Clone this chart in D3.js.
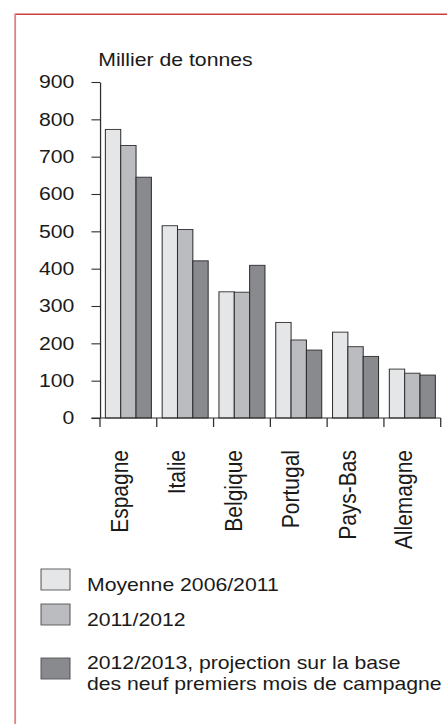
<!DOCTYPE html>
<html>
<head>
    <meta charset="utf-8">
    <title>Millier de tonnes</title>
    <script src="https://cdn.jsdelivr.net/npm/d3@7"></script>
    <style>
        body { margin: 0; background: #fff; }
        svg { display: block; }
        text { font-family: "Liberation Sans", Arial, sans-serif; fill: #1a1a1a; }
    </style>
</head>
<body>
    <script>
        // Données (milliers de tonnes)
        var pays = ["Espagne", "Italie", "Belgique", "Portugal", "Pays-Bas", "Allemagne"];
        var moyenne0611 = [773, 515, 338, 256, 230, 131];
        var campagne1112 = [730, 505, 337, 209, 191, 120];
        var campagne1213 = [645, 421, 409, 182, 165, 115];
        var series = ["Moyenne 2006/2011", "2011/2012", "2012/2013"];
        var legendLabels = [["Moyenne 2006/2011"], ["2011/2012"],
            ["2012/2013, projection sur la base", "des neuf premiers mois de campagne"]];
        var yTicks = [0, 100, 200, 300, 400, 500, 600, 700, 800, 900];

        var fills = ["#e5e6e8", "#bbbcbf", "#898a8e"];

        // Dimensions. L'image d'origine est étirée horizontalement
        var width = 447, height = 724;
        var sx = 1.14;
        var vbWidth = width / sx;

        var svg = d3.select("body").append("svg")
            .attr("width", width)
            .attr("height", height)
            .attr("viewBox", "0 0 " + vbWidth + " " + height)
            .attr("preserveAspectRatio", "none");

        // Cadre rouge
        svg.append("line")
            .attr("x1", 13.2).attr("x2", vbWidth)
            .attr("y1", 14.2).attr("y2", 14.2)
            .attr("stroke", "#c8403f").attr("stroke-width", 1.6);
        svg.append("line")
            .attr("x1", 13.3).attr("x2", 13.3)
            .attr("y1", 13.5).attr("y2", height)
            .attr("stroke", "#dc8585").attr("stroke-width", 1.6);

        var x0 = d3.scaleBand()
            .domain(pays)
            .range([87.7, 386.6])
            .paddingInner(0.19)
            .paddingOuter(0.095);

        var x1 = d3.scaleBand()
            .domain(series)
            .range([0, x0.bandwidth()]);

        var y = d3.scaleLinear()
            .domain([0, 900])
            .range([418, 82]);

        var rows = pays.map(function(p, i) {
            return {pays: p, values: [moyenne0611[i], campagne1112[i], campagne1213[i]]};
        });

        // Barres
        var groups = svg.selectAll("g.pays")
            .data(rows)
            .enter().append("g")
            .attr("class", "pays")
            .attr("transform", function(d) { return "translate(" + x0(d.pays) + ",0)"; });

        groups.selectAll("rect")
            .data(function(d) { return d.values.map(function(v, j) { return {s: series[j], v: v, j: j}; }); })
            .enter().append("rect")
            .attr("x", function(d) { return x1(d.s); })
            .attr("y", function(d) { return y(d.v); })
            .attr("width", x1.bandwidth())
            .attr("height", function(d) { return y(0) - y(d.v); })
            .attr("fill", function(d) { return fills[d.j]; })
            .attr("stroke", "#2e2e2e")
            .attr("stroke-width", 0.9);

        // Axe vertical
        var yAxis = svg.append("g")
            .attr("transform", "translate(87.7,0)")
            .call(d3.axisLeft(y).tickValues(yTicks).tickSize(7.5).tickSizeOuter(0).tickPadding(15));
        yAxis.select(".domain").attr("stroke", "#2e2e2e").attr("stroke-width", 1.1);
        yAxis.selectAll(".tick line").attr("stroke", "#2e2e2e").attr("stroke-width", 1.1);
        yAxis.selectAll(".tick text")
            .style("font-size", "18.6px")
            .attr("fill", "#1a1a1a");

        // Axe horizontal
        var step = x0.step();
        var xTicks = pays.map(function(p) { return x0(p) - step * 0.095; });
        xTicks.push(x0.range()[1]);
        svg.append("line")
            .attr("x1", 80.2).attr("x2", x0.range()[1])
            .attr("y1", y(0)).attr("y2", y(0))
            .attr("stroke", "#2e2e2e").attr("stroke-width", 1.1);
        svg.selectAll("line.xtick")
            .data(xTicks)
            .enter().append("line")
            .attr("class", "xtick")
            .attr("x1", function(d) { return d; })
            .attr("x2", function(d) { return d; })
            .attr("y1", y(0)).attr("y2", y(0) + 9)
            .attr("stroke", "#2e2e2e").attr("stroke-width", 1.1);

        svg.selectAll("text.pays")
            .data(pays)
            .enter().append("text")
            .attr("class", "pays")
            .attr("transform", function(d) {
                return "translate(" + (x0(d) + x0.bandwidth() / 2) + ",450) rotate(-90)";
            })
            .attr("text-anchor", "end")
            .style("font-size", "21px")
            .text(function(d) { return d; });

        // Titre de l'axe
        svg.append("text")
            .attr("x", 86.2)
            .attr("y", 66.5)
            .style("font-size", "18.6px")
            .text("Millier de tonnes");

        // Légende
        var legendY = [569, 604, 658];
        var legendBase = [[591], [626], [669, 690]];
        var legend = svg.selectAll("g.legend")
            .data(legendLabels)
            .enter().append("g")
            .attr("class", "legend");

        legend.append("rect")
            .attr("x", 36)
            .attr("y", function(d, i) { return legendY[i]; })
            .attr("width", 25.4)
            .attr("height", 21)
            .attr("fill", function(d, i) { return fills[i]; })
            .attr("stroke", "#555")
            .attr("stroke-width", 0.9);

        legend.each(function(d, i) {
            d3.select(this).selectAll("text")
                .data(d)
                .enter().append("text")
                .attr("x", 76.3)
                .attr("y", function(t, k) { return legendBase[i][k]; })
                .style("font-size", "18.6px")
                .text(function(t) { return t; });
        });
    </script>
</body>
</html>
